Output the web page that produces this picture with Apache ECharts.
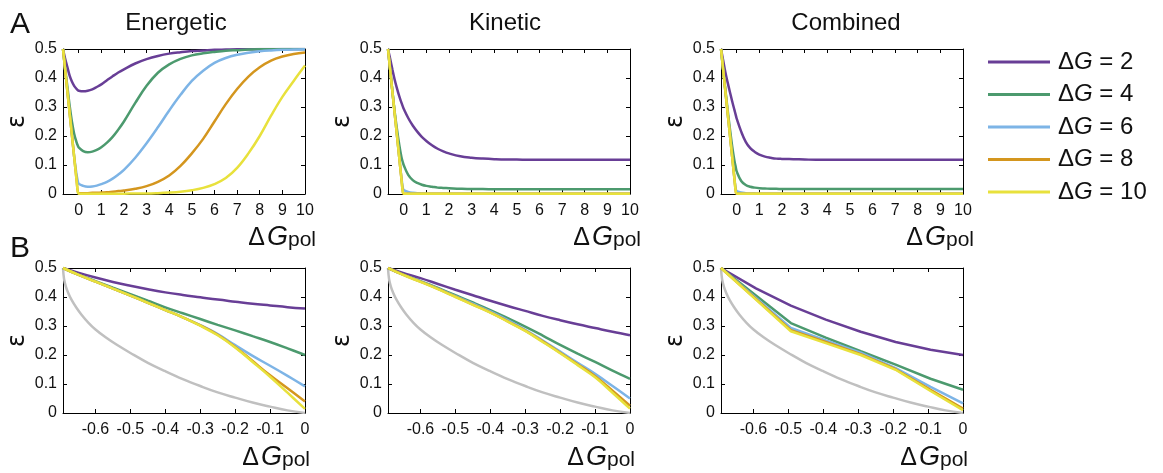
<!DOCTYPE html>
<html><head><meta charset="utf-8">
<script src="https://cdn.jsdelivr.net/npm/echarts@6/dist/echarts.min.js"></script>
<style>html,body{margin:0;padding:0;background:#fff}#c{width:1163px;height:473px}</style>
</head><body><div id="c"></div>
<script>
// ---------- labels ----------
const SERIES_NAMES = ['ΔG = 2', 'ΔG = 4', 'ΔG = 6', 'ΔG = 8', 'ΔG = 10'];
const PANEL_TITLES = ['Energetic', 'Kinetic', 'Combined'];
const ROW_LETTERS = ['A', 'B'];
const A_X_TICKS = [0, 1, 2, 3, 4, 5, 6, 7, 8, 9, 10];
const B_X_TICKS = [-0.6, -0.5, -0.4, -0.3, -0.2, -0.1, 0];
const X_MIN = -0.693;

// ---------- row A data (x = ΔG_pol) ----------
const A_X = [-0.693, -0.6, -0.5, -0.4, -0.3, -0.2, -0.1, -0.04, 0,
  0.2, 0.4, 0.6, 0.8, 1, 1.25, 1.5, 1.75, 2, 2.5, 3, 3.5, 4, 4.5, 5, 5.5, 6,
  6.5, 7, 7.5, 8, 8.5, 9, 9.5, 10];

const A_ENERGETIC_DG2 = [0.5, 0.467, 0.438, 0.408, 0.388, 0.373, 0.363, 0.358, 0.356,
  0.354, 0.356, 0.361, 0.369, 0.378, 0.392, 0.406, 0.419, 0.43, 0.45, 0.465, 0.476, 0.484,
  0.489, 0.493, 0.495, 0.497, 0.498, 0.499, 0.499, 0.5, 0.5, 0.5, 0.5, 0.5];
const A_ENERGETIC_DG4 = [0.5, 0.435, 0.37, 0.305, 0.25, 0.208, 0.18, 0.167, 0.161,
  0.148, 0.144, 0.146, 0.152, 0.161, 0.177, 0.197, 0.222, 0.25, 0.314, 0.373, 0.418, 0.447,
  0.466, 0.478, 0.485, 0.49, 0.494, 0.496, 0.498, 0.499, 0.499, 0.5, 0.5, 0.5];
const A_ENERGETIC_DG6 = [0.5, 0.43, 0.355, 0.28, 0.205, 0.13, 0.07, 0.045, 0.036,
  0.028, 0.025, 0.026, 0.029, 0.034, 0.042, 0.053, 0.067, 0.083, 0.125, 0.175, 0.23, 0.288,
  0.342, 0.39, 0.425, 0.452, 0.469, 0.48, 0.487, 0.492, 0.495, 0.497, 0.498, 0.499];
const A_ENERGETIC_DG8 = [0.5, 0.43, 0.354, 0.279, 0.204, 0.128, 0.053, 0.009, 0.003,
  0.003, 0.003, 0.004, 0.004, 0.005, 0.006, 0.008, 0.01, 0.012, 0.018, 0.027, 0.042, 0.064,
  0.097, 0.14, 0.19, 0.25, 0.31, 0.362, 0.405, 0.437, 0.46, 0.474, 0.483, 0.488];
const A_ENERGETIC_DG10 = [0.5, 0.43, 0.354, 0.279, 0.204, 0.128, 0.053, 0.008, 0.001,
  0.001, 0.001, 0.001, 0.001, 0.001, 0.001, 0.001, 0.001, 0.001, 0.002, 0.002, 0.003, 0.005,
  0.008, 0.013, 0.021, 0.034, 0.055, 0.09, 0.14, 0.2, 0.27, 0.335, 0.39, 0.443];

const A_KINETIC_DG2 = [0.5, 0.467, 0.43, 0.395, 0.365, 0.338, 0.315, 0.302, 0.294,
  0.262, 0.236, 0.215, 0.197, 0.183, 0.168, 0.156, 0.147, 0.14, 0.13, 0.125, 0.122, 0.12,
  0.119, 0.119, 0.118, 0.118, 0.118, 0.118, 0.118, 0.118, 0.118, 0.118, 0.118, 0.118];
const A_KINETIC_DG4 = [0.5, 0.43, 0.356, 0.285, 0.225, 0.172, 0.128, 0.11, 0.1,
  0.066, 0.048, 0.038, 0.032, 0.028, 0.025, 0.022, 0.021, 0.02, 0.018, 0.017, 0.017, 0.016,
  0.016, 0.016, 0.016, 0.016, 0.016, 0.016, 0.016, 0.016, 0.016, 0.016, 0.016, 0.016];
const A_KINETIC_DG6 = [0.5, 0.43, 0.355, 0.28, 0.205, 0.13, 0.057, 0.022, 0.014,
  0.007, 0.004, 0.003, 0.002, 0.0015, 0.001, 0.001, 0.001, 0.001, 0.001, 0.001, 0.001, 0.001,
  0.001, 0.001, 0.001, 0.001, 0.001, 0.001, 0.001, 0.001, 0.001, 0.001, 0.001, 0.001];
const A_KINETIC_DG8 = [0.5, 0.43, 0.354, 0.279, 0.204, 0.128, 0.053, 0.008, 0.001,
  0.001, 0.001, 0.001, 0.001, 0.001, 0.001, 0.001, 0.001, 0.001, 0.001, 0.001, 0.001, 0.001,
  0.001, 0.001, 0.001, 0.001, 0.001, 0.001, 0.001, 0.001, 0.001, 0.001, 0.001, 0.001];
const A_KINETIC_DG10 = [0.5, 0.43, 0.354, 0.279, 0.204, 0.128, 0.053, 0.008, 0.001,
  0.001, 0.001, 0.001, 0.001, 0.001, 0.001, 0.001, 0.001, 0.001, 0.001, 0.001, 0.001, 0.001,
  0.001, 0.001, 0.001, 0.001, 0.001, 0.001, 0.001, 0.001, 0.001, 0.001, 0.001, 0.001];

const A_COMBINED_DG2 = [0.5, 0.462, 0.42, 0.385, 0.352, 0.32, 0.29, 0.272, 0.26,
  0.215, 0.18, 0.158, 0.145, 0.136, 0.129, 0.125, 0.122, 0.121, 0.12, 0.119, 0.118, 0.118,
  0.118, 0.118, 0.118, 0.118, 0.118, 0.118, 0.118, 0.118, 0.118, 0.118, 0.118, 0.118];
const A_COMBINED_DG4 = [0.5, 0.432, 0.36, 0.29, 0.225, 0.165, 0.115, 0.092, 0.078,
  0.045, 0.031, 0.025, 0.022, 0.02, 0.019, 0.018, 0.018, 0.017, 0.017, 0.017, 0.017, 0.017,
  0.017, 0.017, 0.017, 0.017, 0.017, 0.017, 0.017, 0.017, 0.017, 0.017, 0.017, 0.017];
const A_COMBINED_DG6 = [0.5, 0.43, 0.355, 0.28, 0.205, 0.13, 0.055, 0.018, 0.01,
  0.005, 0.003, 0.002, 0.0015, 0.001, 0.001, 0.001, 0.001, 0.001, 0.001, 0.001, 0.001, 0.001,
  0.001, 0.001, 0.001, 0.001, 0.001, 0.001, 0.001, 0.001, 0.001, 0.001, 0.001, 0.001];
const A_COMBINED_DG8 = A_KINETIC_DG8.slice();
const A_COMBINED_DG10 = A_KINETIC_DG10.slice();

// ---------- row B data (x = ΔG_pol, zoom on [-ln2, 0]) ----------
const B_X = [-0.693, -0.65, -0.6, -0.55, -0.5, -0.45, -0.4, -0.35, -0.3, -0.25, -0.2, -0.15, -0.1, -0.05, 0];

const B_ENERGETIC_DG2 = [0.5, 0.484, 0.467, 0.452, 0.439, 0.427, 0.416, 0.407, 0.399, 0.391, 0.384, 0.377, 0.371, 0.365, 0.36];
const B_ENERGETIC_DG4 = [0.5, 0.478, 0.455, 0.432, 0.41, 0.387, 0.364, 0.344, 0.324, 0.304, 0.285, 0.265, 0.245, 0.223, 0.2];
const B_ENERGETIC_DG6 = [0.5, 0.477, 0.453, 0.429, 0.405, 0.38, 0.355, 0.33, 0.303, 0.272, 0.234, 0.197, 0.163, 0.128, 0.092];
const B_ENERGETIC_DG8 = [0.5, 0.477, 0.453, 0.429, 0.405, 0.38, 0.355, 0.33, 0.302, 0.27, 0.228, 0.179, 0.13, 0.085, 0.04];
const B_ENERGETIC_DG10 = [0.5, 0.477, 0.453, 0.429, 0.405, 0.38, 0.355, 0.33, 0.301, 0.268, 0.226, 0.176, 0.125, 0.07, 0.014];

const B_KINETIC_DG2 = [0.5, 0.483, 0.465, 0.445, 0.425, 0.406, 0.387, 0.369, 0.352, 0.335, 0.32, 0.306, 0.293, 0.28, 0.268];
const B_KINETIC_DG4 = [0.5, 0.478, 0.455, 0.431, 0.406, 0.381, 0.355, 0.327, 0.298, 0.267, 0.235, 0.205, 0.176, 0.146, 0.118];
const B_KINETIC_DG6 = [0.5, 0.477, 0.454, 0.429, 0.403, 0.377, 0.35, 0.32, 0.287, 0.25, 0.212, 0.173, 0.135, 0.093, 0.05];
const B_KINETIC_DG8 = [0.5, 0.477, 0.453, 0.428, 0.401, 0.374, 0.347, 0.316, 0.284, 0.247, 0.208, 0.168, 0.127, 0.077, 0.025];
const B_KINETIC_DG10 = [0.5, 0.476, 0.452, 0.427, 0.4, 0.373, 0.346, 0.315, 0.283, 0.245, 0.206, 0.165, 0.123, 0.07, 0.015];

const B_COMBINED_X = [-0.693, -0.593, -0.493, -0.393, -0.293, -0.193, -0.093, 0];
const B_COMBINED_DG2 = [0.5, 0.43, 0.37, 0.322, 0.28, 0.245, 0.218, 0.2];
const B_COMBINED_DG4 = [0.5, 0.405, 0.31, 0.26, 0.213, 0.167, 0.118, 0.08];
const B_COMBINED_DG6 = [0.5, 0.397, 0.293, 0.25, 0.208, 0.155, 0.09, 0.033];
const B_COMBINED_DG8 = [0.5, 0.393, 0.286, 0.245, 0.203, 0.151, 0.08, 0.015];
const B_COMBINED_DG10 = [0.5, 0.391, 0.282, 0.241, 0.2, 0.149, 0.076, 0.01];

// grey reference curve in row B
const B_GREY_X = [-0.693, -0.69, -0.685, -0.678, -0.668, -0.655, -0.64, -0.62, -0.6, -0.57, -0.54, -0.5,
  -0.45, -0.4, -0.35, -0.3, -0.25, -0.2, -0.15, -0.1, -0.05, 0];
const B_GREY = [0.5, 0.462, 0.437, 0.414, 0.389, 0.364, 0.339, 0.311, 0.288, 0.26, 0.236, 0.207,
  0.173, 0.144, 0.117, 0.093, 0.071, 0.053, 0.036, 0.022, 0.009, 0];

// ---------- style ----------
const COLORS = ['#683e96', '#4c9a6e', '#7db4e6', '#d4961e', '#e8e13c'];
const GREY = '#c0c0c0';
const FONT = 'Liberation Sans, Arial, sans-serif';
const LEFTS = [63, 388, 721];
const TOPS = [49, 268];
const GW = 242, GH = 145;

const zip = (xs, ys) => xs.map((x, i) => [x, ys[i]]);

const panels = [
  { row: 0, col: 0, x: A_X, ys: [A_ENERGETIC_DG2, A_ENERGETIC_DG4, A_ENERGETIC_DG6, A_ENERGETIC_DG8, A_ENERGETIC_DG10] },
  { row: 0, col: 1, x: A_X, ys: [A_KINETIC_DG2, A_KINETIC_DG4, A_KINETIC_DG6, A_KINETIC_DG8, A_KINETIC_DG10] },
  { row: 0, col: 2, x: A_X, ys: [A_COMBINED_DG2, A_COMBINED_DG4, A_COMBINED_DG6, A_COMBINED_DG8, A_COMBINED_DG10] },
  { row: 1, col: 0, x: B_X, ys: [B_ENERGETIC_DG2, B_ENERGETIC_DG4, B_ENERGETIC_DG6, B_ENERGETIC_DG8, B_ENERGETIC_DG10] },
  { row: 1, col: 1, x: B_X, ys: [B_KINETIC_DG2, B_KINETIC_DG4, B_KINETIC_DG6, B_KINETIC_DG8, B_KINETIC_DG10] },
  { row: 1, col: 2, x: B_COMBINED_X, ys: [B_COMBINED_DG2, B_COMBINED_DG4, B_COMBINED_DG6, B_COMBINED_DG8, B_COMBINED_DG10], straight: true }
];

const grid = [], xAxis = [], yAxis = [], series = [], graphic = [], title = [];
const axisLine = { show: true, onZero: false, lineStyle: { color: '#000', width: 1 } };
const tick = (vals) => ({ show: true, inside: true, length: 4, lineStyle: { color: '#000', width: 1 }, customValues: vals });
const fmtX = v => (Math.abs(v) < 1e-9 ? '0' : String(+v.toFixed(1)));

panels.forEach((p, i) => {
  const left = LEFTS[p.col], top = TOPS[p.row];
  grid.push({ left: left, top: top, width: GW, height: GH, show: false });
  const ticks = p.row === 0 ? A_X_TICKS : B_X_TICKS;
  const xMax = p.row === 0 ? 10 : 0;
  xAxis.push({ type: 'value', gridIndex: i, position: 'bottom', min: X_MIN, max: xMax,
    axisLine: axisLine, axisTick: tick(ticks), splitLine: { show: false },
    axisLabel: { customValues: ticks, formatter: fmtX, margin: 9, fontSize: 16, color: '#111', fontFamily: FONT } });
  xAxis.push({ type: 'value', gridIndex: i, position: 'top', min: X_MIN, max: xMax,
    axisLine: axisLine, axisTick: tick(ticks), splitLine: { show: false }, axisLabel: { show: false } });
  yAxis.push({ type: 'value', gridIndex: i, position: 'left', min: 0, max: 0.5, interval: 0.1,
    axisLine: axisLine, axisTick: { show: true, inside: true, length: 4, lineStyle: { color: '#000' } },
    splitLine: { show: false },
    axisLabel: { margin: 6, fontSize: 16, color: '#111', fontFamily: FONT, formatter: v => String(+v.toFixed(1)) },
    name: 'ε', nameLocation: 'middle', nameGap: 33, nameRotate: 90,
    nameTextStyle: { fontSize: 24, color: '#111', fontFamily: 'DejaVu Sans, ' + FONT } });
  yAxis.push({ type: 'value', gridIndex: i, position: 'right', min: 0, max: 0.5, interval: 0.1,
    axisLine: axisLine, axisTick: { show: true, inside: true, length: 4, lineStyle: { color: '#000' } },
    splitLine: { show: false }, axisLabel: { show: false } });

  if (p.row === 1) {
    series.push({ type: 'line', name: 'grey', xAxisIndex: 2 * i, yAxisIndex: 2 * i,
      data: zip(B_GREY_X, B_GREY), showSymbol: false, symbol: 'none', smooth: 0.4,
      lineStyle: { color: GREY, width: 2.5 }, itemStyle: { color: GREY }, silent: true, z: 1 });
  }
  p.ys.forEach((ys, k) => {
    series.push({ type: 'line', name: SERIES_NAMES[k], xAxisIndex: 2 * i, yAxisIndex: 2 * i,
      data: zip(p.x, ys), showSymbol: false, symbol: 'none',
      smooth: p.straight ? false : 0.4,
      lineStyle: { color: COLORS[k], width: 2.5 }, itemStyle: { color: COLORS[k] }, z: 2 + k });
  });

  // x axis name ΔG_pol, right-aligned just past the plot's right edge
  const right = left + GW;
  graphic.push({ type: 'text', x: right + (p.row === 0 ? 11 : 5), y: p.row === 0 ? 251 : 471,
    style: { text: '{d|Δ}{g|G}{s|pol}', fill: '#111', align: 'right', verticalAlign: 'bottom',
      rich: {
        d: { fontSize: 25, fontFamily: FONT, fill: '#111', padding: [0, 2, 0, 0], verticalAlign: 'bottom' },
        g: { fontSize: 27, fontStyle: 'italic', fontFamily: FONT, fill: '#111', verticalAlign: 'bottom' },
        s: { fontSize: 21, fontFamily: FONT, fill: '#111', padding: [6, 0, 0, 0], verticalAlign: 'bottom' }
      } } });
});

// panel titles
const TITLE_CENTERS = [171, 500, 841];
PANEL_TITLES.forEach((t, i) => title.push({ text: t, left: TITLE_CENTERS[i], top: 6, textAlign: 'center',
  textStyle: { fontSize: 24, fontWeight: 'normal', color: '#111', fontFamily: FONT } }));
// row letters
ROW_LETTERS.forEach((t, i) => title.push({ text: t, left: 5, top: i === 0 ? 5 : 229,
  textStyle: { fontSize: 30, fontWeight: 'normal', color: '#111', fontFamily: FONT } }));

const option = {
  backgroundColor: '#fff',
  animation: false,
  title: title,
  grid: grid, xAxis: xAxis, yAxis: yAxis, series: series, graphic: graphic,
  legend: {
    data: SERIES_NAMES, orient: 'vertical', left: 983, top: 45,
    icon: 'rect', itemWidth: 62, itemHeight: 3, itemGap: 8.5,
    formatter: name => '{n|Δ}{g|G}{n|' + name.slice(2) + '}',
    textStyle: { fontSize: 24, color: '#111', fontFamily: FONT, padding: [0, 0, 0, 3],
      rich: {
        n: { fontSize: 24, color: '#111', fontFamily: FONT, lineHeight: 24 },
        g: { fontSize: 24, color: '#111', fontFamily: FONT, fontStyle: 'italic', lineHeight: 24 }
      } }
  }
};
const chart = echarts.init(document.getElementById('c'), null, { renderer: 'canvas' });
chart.setOption(option);
</script></body></html>
